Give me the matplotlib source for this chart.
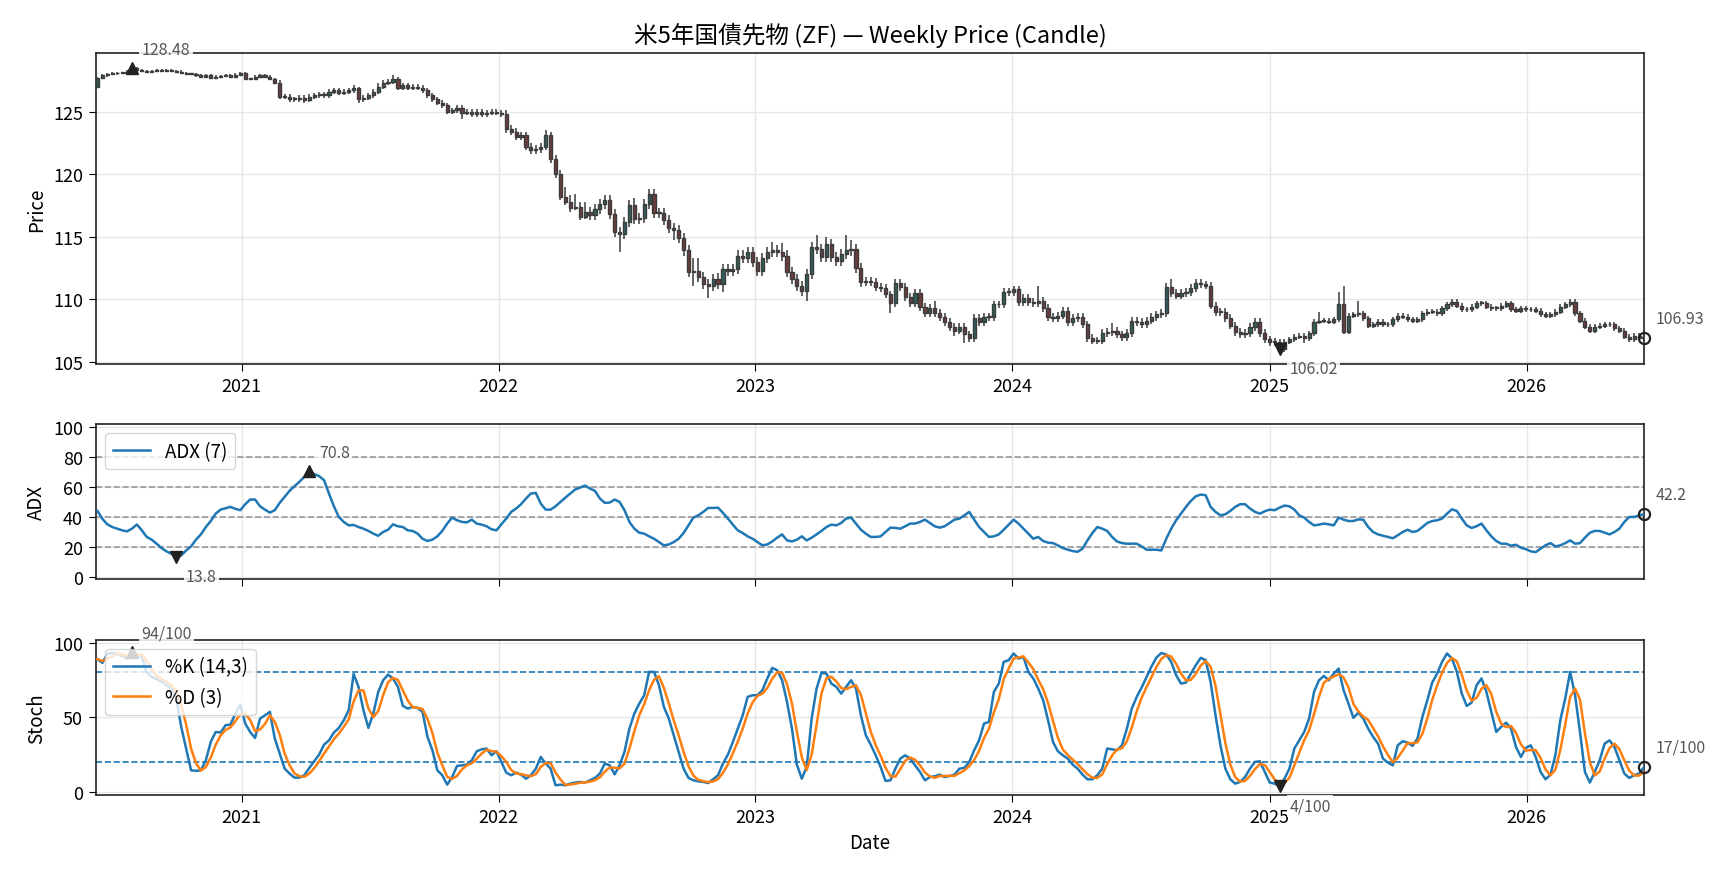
import numpy as np
import pandas as pd
import matplotlib
matplotlib.use("Agg")
import matplotlib.pyplot as plt
import matplotlib.dates as mdates

plt.rcParams['font.family'] = ['Noto Sans CJK JP', 'DejaVu Sans']

# weekly bars, first bar week of 2020-06-10
start = "2020-06-10"
first_open = 127.0

closes = [
    127.7, 127.9, 128.0, 128.05, 128.1, 128.1, 128.2, 128.48, 128.3, 128.25,
    128.2, 128.25, 128.3, 128.25, 128.3, 128.25, 128.2, 128.1, 128.0, 128.0,
    127.9, 127.8, 127.9, 127.7, 127.8, 127.85, 127.9, 127.8, 127.95, 128.05,
    127.6, 127.6, 127.8, 127.9, 127.8, 127.6, 127.3, 126.2, 126.2, 126.0,
    126.0, 126.1, 125.9, 126.2, 126.3, 126.4, 126.3, 126.6, 126.7, 126.5,
    126.6, 126.7, 126.9, 126.0, 126.1, 126.3, 126.6, 127.0, 127.3, 127.4,
    127.6, 126.9, 127.1, 126.9, 127.0, 126.9, 126.7, 126.3, 126.0, 125.7,
    125.5, 125.0, 125.1, 125.3, 124.9, 125.0, 124.8, 125.0, 124.8, 124.9,
    125.0, 124.9, 124.8, 123.6, 123.4, 123.0, 123.1, 122.2, 121.9, 122.0,
    122.2, 123.1, 121.2, 120.0, 118.2, 117.8, 117.3, 117.4, 116.6, 117.0,
    116.7, 117.2, 117.6, 117.9, 116.8, 115.4, 115.2, 116.2, 117.5, 116.4,
    116.5, 117.6, 118.4, 116.9, 116.9, 116.3, 115.7, 115.5, 114.9, 113.9,
    112.2, 112.3, 111.8, 111.2, 111.1, 111.6, 111.2, 112.4, 112.3, 112.4,
    113.5, 113.3, 113.8, 113.0, 112.3, 113.3, 113.8, 113.9, 113.8, 113.5,
    112.2, 111.6, 111.1, 110.7, 112.0, 114.2, 114.0, 113.4, 114.4, 113.4,
    113.1, 113.6, 113.9, 114.0, 112.5, 111.4, 111.5, 111.4, 111.0, 110.9,
    110.4, 109.7, 111.3, 111.0, 110.2, 109.7, 110.5, 109.4, 108.9, 109.3,
    108.9, 108.6, 108.2, 107.8, 107.5, 107.8, 107.2, 106.9, 108.5, 108.2,
    108.6, 108.6, 109.6, 109.6, 110.6, 110.6, 110.8, 109.8, 110.1, 109.8,
    109.7, 109.9, 109.3, 108.6, 108.5, 108.7, 109.1, 108.2, 108.5, 108.6,
    108.0, 106.9, 106.7, 106.7, 107.3, 107.4, 107.5, 107.2, 107.0, 107.3,
    108.3, 108.2, 108.0, 108.3, 108.6, 108.8, 108.9, 111.0, 110.5, 110.3,
    110.5, 110.6, 110.9, 111.3, 111.2, 111.1, 109.5, 109.0, 109.0, 108.5,
    107.9, 107.4, 107.2, 107.3, 107.8, 108.2, 107.3, 106.8, 106.6, 106.6,
    106.02, 106.6, 106.8, 107.0, 107.1, 106.9, 107.3, 108.2, 108.3, 108.3,
    108.2, 108.4, 109.6, 107.4, 108.7, 108.8, 108.9, 108.5, 107.9, 108.0,
    108.2, 108.0, 108.0, 108.4, 108.7, 108.6, 108.4, 108.3, 108.4, 108.9,
    109.0, 109.0, 108.9, 109.3, 109.6, 109.8, 109.5, 109.2, 109.2, 109.4,
    109.7, 109.7, 109.4, 109.3, 109.3, 109.5, 109.7, 109.2, 109.1, 109.3,
    109.2, 109.2, 109.1, 108.8, 108.7, 108.8, 109.0, 109.4, 109.6, 109.8,
    108.9, 108.3, 107.8, 107.5, 107.8, 107.9, 108.0, 108.0, 107.7, 107.5,
    107.0, 106.8, 107.1, 106.9, 106.93,
]

# wick length above / below the body
wick_up = [
    0.1, 0.1, 0.1, 0.1, 0.1, 0.1, 0.1, 0.1, 0.1, 0.1, 0.1, 0.1, 0.1, 0.1, 0.1, 0.1, 0.1, 0.1, 0.1, 0.1,
    0.1, 0.1, 0.1, 0.1, 0.1, 0.1, 0.1, 0.1, 0.1, 0.1, 0.1, 0.1, 0.1, 0.1, 0.1, 0.1, 0.1, 0.2, 0.2, 0.2,
    0.2, 0.2, 0.2, 0.2, 0.2, 0.2, 0.2, 0.2, 0.2, 0.2, 0.2, 0.2, 0.2, 0.1, 0.2, 0.2, 0.2, 0.3, 0.2, 0.2,
    0.3, 0.2, 0.2, 0.2, 0.2, 0.2, 0.2, 0.2, 0.2, 0.2, 0.2, 0.2, 0.2, 0.2, 0.2, 0.2, 0.2, 0.2, 0.2, 0.2,
    0.2, 0.2, 0.2, 0.3, 0.3, 0.3, 0.3, 0.3, 0.3, 0.3, 0.3, 0.4, 0.3, 0.3, 0.3, 0.8, 0.5, 1.0, 0.4, 0.8,
    0.4, 0.4, 0.4, 0.4, 0.4, 0.4, 0.4, 0.4, 0.4, 0.6, 0.4, 0.4, 0.4, 0.4, 0.4, 0.4, 0.4, 0.4, 0.4, 0.4,
    0.4, 1.0, 1.0, 0.4, 0.4, 0.4, 0.5, 0.4, 0.4, 0.4, 0.4, 0.4, 0.4, 0.4, 0.4, 0.4, 0.4, 0.7, 0.4, 0.7,
    0.4, 0.4, 0.4, 0.4, 0.4, 0.4, 0.9, 0.4, 0.6, 0.4, 0.4, 0.4, 1.2, 0.7, 0.4, 0.4, 0.3, 0.3, 0.3, 0.3,
    0.3, 0.3, 0.3, 0.3, 0.3, 0.3, 0.3, 0.3, 0.3, 0.3, 0.6, 0.3, 0.3, 0.3, 0.3, 0.3, 0.3, 0.3, 0.3, 0.3,
    0.3, 0.3, 0.3, 0.3, 0.3, 0.3, 0.3, 0.3, 0.3, 0.3, 0.3, 1.2, 0.3, 0.3, 0.3, 0.3, 0.3, 0.3, 0.3, 0.3,
    0.3, 0.3, 0.3, 0.3, 0.3, 0.3, 0.6, 0.3, 0.3, 0.3, 0.3, 0.3, 0.3, 0.3, 0.3, 0.3, 0.3, 0.3, 0.6, 0.3,
    0.3, 0.3, 0.3, 0.3, 0.3, 0.3, 0.3, 0.3, 0.3, 0.3, 0.3, 0.3, 0.3, 0.3, 0.3, 0.3, 0.3, 0.3, 0.3, 0.3,
    0.2, 0.2, 0.2, 0.2, 0.2, 0.2, 0.2, 0.2, 0.7, 0.2, 0.2, 0.2, 1.0, 1.5, 0.2, 0.2, 1.0, 0.2, 0.2, 0.2,
    0.2, 0.2, 0.2, 0.2, 0.2, 0.2, 0.2, 0.2, 0.2, 0.2, 0.2, 0.2, 0.2, 0.2, 0.2, 0.2, 0.2, 0.2, 0.2, 0.2,
    0.2, 0.2, 0.2, 0.2, 0.2, 0.2, 0.2, 0.2, 0.2, 0.2, 0.2, 0.2, 0.2, 0.2, 0.2, 0.2, 0.2, 0.2, 0.2, 0.2,
    0.2, 0.2, 0.2, 0.2, 0.2, 0.2, 0.2, 0.2, 0.2, 0.2, 0.2, 0.2, 0.2, 0.2, 0.2,
]
wick_dn = [
    0.1, 0.1, 0.1, 0.1, 0.1, 0.1, 0.1, 0.1, 0.1, 0.1, 0.1, 0.1, 0.1, 0.1, 0.1, 0.1, 0.1, 0.1, 0.1, 0.1,
    0.1, 0.1, 0.1, 0.1, 0.1, 0.1, 0.1, 0.1, 0.1, 0.1, 0.1, 0.1, 0.1, 0.1, 0.1, 0.1, 0.1, 0.2, 0.2, 0.2,
    0.2, 0.2, 0.2, 0.1, 0.2, 0.2, 0.2, 0.2, 0.2, 0.2, 0.2, 0.2, 0.2, 0.3, 0.2, 0.2, 0.2, 0.2, 0.2, 0.2,
    0.2, 0.2, 0.2, 0.2, 0.2, 0.2, 0.2, 0.2, 0.2, 0.2, 0.2, 0.2, 0.2, 0.2, 0.5, 0.2, 0.2, 0.2, 0.2, 0.2,
    0.2, 0.2, 0.2, 0.3, 0.3, 0.3, 0.3, 0.3, 0.3, 0.3, 0.3, 0.3, 0.3, 0.3, 0.3, 0.3, 0.3, 0.2, 0.3, 0.2,
    0.4, 0.4, 0.4, 0.4, 0.4, 0.4, 1.4, 0.4, 0.4, 0.4, 0.4, 0.4, 0.4, 0.4, 0.4, 0.4, 0.4, 0.8, 0.4, 0.4,
    0.4, 1.1, 0.4, 0.4, 1.0, 0.4, 0.4, 0.6, 0.4, 0.4, 0.4, 0.4, 0.4, 0.4, 0.4, 0.4, 0.4, 0.4, 0.4, 0.4,
    0.4, 0.4, 0.4, 0.4, 0.8, 0.4, 0.4, 0.4, 0.4, 0.4, 0.4, 0.4, 0.4, 0.4, 0.4, 0.4, 0.3, 0.3, 0.3, 0.3,
    0.3, 0.8, 0.3, 0.3, 0.3, 0.3, 0.3, 0.3, 0.3, 0.3, 0.3, 0.3, 0.3, 0.3, 0.4, 0.3, 0.7, 0.3, 0.3, 0.3,
    0.3, 0.3, 0.3, 0.3, 0.3, 0.3, 0.3, 0.3, 0.3, 0.3, 0.3, 0.3, 0.3, 0.3, 0.3, 0.3, 0.3, 0.3, 0.3, 0.3,
    0.3, 0.3, 0.3, 0.3, 0.3, 0.3, 0.3, 0.3, 0.3, 0.3, 0.3, 0.3, 0.3, 0.3, 0.3, 0.3, 0.3, 0.3, 0.3, 0.3,
    0.3, 0.3, 0.3, 0.3, 0.3, 0.3, 0.3, 0.3, 0.3, 0.3, 0.3, 0.3, 0.3, 0.3, 0.3, 0.3, 0.3, 0.3, 0.3, 0.3,
    0.2, 0.2, 0.2, 0.2, 0.2, 0.4, 0.2, 0.2, 0.2, 0.2, 0.2, 0.2, 0.2, 0.2, 0.2, 0.2, 0.2, 0.2, 0.2, 0.2,
    0.2, 0.2, 0.2, 0.2, 0.2, 0.2, 0.2, 0.2, 0.2, 0.2, 0.2, 0.2, 0.2, 0.2, 0.2, 0.2, 0.2, 0.2, 0.2, 0.2,
    0.2, 0.2, 0.2, 0.2, 0.2, 0.2, 0.2, 0.2, 0.2, 0.2, 0.2, 0.2, 0.2, 0.2, 0.2, 0.2, 0.2, 0.2, 0.2, 0.2,
    0.2, 0.2, 0.2, 0.2, 0.2, 0.2, 0.2, 0.2, 0.2, 0.2, 0.2, 0.2, 0.2, 0.2, 0.2,
]

adx = [
    44.3, 39.0, 35.4, 33.6, 32.5, 31.4, 30.7, 32.5, 35.3, 31.4,
    27.0, 25.2, 22.5, 19.6, 17.4, 15.8, 13.8, 14.7, 18.0, 20.7,
    25.2, 28.7, 33.6, 37.6, 42.5, 45.2, 46.1, 47.0, 45.7, 44.8,
    48.8, 51.9, 51.9, 47.4, 45.2, 43.2, 44.8, 49.7, 53.7, 57.7,
    60.8, 63.7, 67.0, 70.8, 68.8, 67.5, 64.8, 55.9, 47.4, 40.3,
    37.0, 34.7, 35.0, 33.6, 32.5, 31.0, 29.2, 27.8, 30.3, 31.8,
    35.4, 34.1, 33.6, 31.4, 31.0, 29.2, 25.8, 24.3, 25.2, 27.4,
    31.0, 35.9, 39.9, 38.1, 37.0, 36.7, 38.5, 35.9, 35.2, 34.1,
    32.1, 31.4, 35.4, 39.2, 43.7, 45.9, 48.8, 52.6, 55.9, 56.3,
    49.2, 45.2, 45.2, 47.4, 50.3, 53.2, 55.9, 58.6, 59.9, 61.2,
    59.2, 57.7, 52.6, 49.7, 49.9, 51.9, 50.3, 44.8, 37.0, 32.5,
    29.8, 29.2, 27.4, 25.8, 23.6, 21.4, 22.0, 23.6, 25.8, 29.6,
    34.7, 39.9, 41.4, 43.7, 46.3, 46.3, 46.5, 43.0, 39.2, 35.2,
    31.4, 29.6, 27.4, 25.8, 23.6, 21.4, 22.0, 24.0, 26.5, 28.7,
    24.7, 24.0, 25.2, 27.4, 24.7, 26.5, 28.7, 31.0, 33.6, 35.2,
    34.7, 36.3, 39.2, 39.9, 35.9, 31.8, 29.2, 27.0, 27.0, 27.4,
    30.3, 33.2, 33.0, 32.5, 34.1, 35.9, 35.9, 37.0, 38.5, 36.3,
    34.1, 33.2, 34.1, 36.3, 38.5, 39.2, 41.4, 43.7, 38.5, 33.6,
    30.3, 27.0, 27.4, 28.7, 31.8, 35.2, 38.5, 35.9, 32.5, 29.2,
    25.8, 27.0, 24.3, 23.2, 22.9, 21.4, 19.6, 18.5, 17.6, 17.1,
    19.2, 24.7, 29.6, 33.6, 32.5, 31.0, 27.0, 24.0, 22.9, 22.5,
    22.5, 22.5, 20.7, 18.5, 18.5, 18.5, 18.0, 25.8, 32.5, 38.1,
    42.5, 47.0, 51.0, 54.1, 55.2, 54.8, 47.0, 43.7, 41.4, 42.1,
    44.3, 47.0, 48.8, 48.8, 45.9, 43.7, 42.5, 44.1, 45.2, 44.8,
    46.5, 47.9, 47.4, 45.2, 41.4, 39.9, 37.0, 34.7, 35.2, 35.9,
    35.4, 34.7, 39.9, 38.5, 37.6, 37.6, 38.7, 38.5, 33.6, 30.3,
    28.7, 27.8, 27.0, 26.1, 28.1, 30.3, 31.8, 30.3, 31.0, 33.6,
    36.3, 37.6, 38.1, 39.2, 42.5, 45.4, 44.3, 39.2, 34.7, 33.0,
    34.1, 35.9, 31.4, 27.4, 24.3, 22.5, 22.5, 21.2, 21.8, 19.8,
    18.9, 17.4, 16.9, 19.2, 21.4, 22.9, 20.7, 21.4, 22.9, 24.7,
    22.5, 22.9, 26.5, 29.8, 31.0, 31.0, 29.8, 28.7, 30.3, 32.5,
    37.0, 40.3, 40.3, 41.4, 42.2,
]

stoch_k = [
    88.9, 86.4, 92.5, 93.0, 92.5, 91.0, 89.3, 94.0, 92.0, 90.4,
    80.0, 77.0, 75.5, 74.0, 71.5, 69.0, 62.6, 43.7, 29.2, 14.7,
    14.3, 14.7, 21.4, 33.6, 40.3, 39.9, 44.8, 45.2, 52.6, 58.6,
    45.9, 40.3, 36.3, 49.2, 51.4, 53.7, 35.9, 25.8, 15.8, 12.5,
    9.8, 9.8, 11.4, 16.3, 20.7, 25.2, 31.8, 34.7, 39.9, 43.0,
    48.1, 54.8, 79.0, 70.4, 54.8, 43.0, 52.6, 67.0, 74.8, 78.6,
    76.0, 70.4, 57.7, 55.9, 57.0, 56.3, 53.7, 37.0, 28.1, 14.7,
    11.4, 5.1, 10.2, 17.6, 18.0, 18.5, 21.4, 27.4, 28.7, 29.2,
    24.7, 27.4, 20.3, 13.1, 11.4, 13.1, 11.8, 9.1, 11.4, 15.8,
    23.6, 19.2, 15.8, 4.7, 5.1, 4.7, 5.8, 6.5, 6.9, 6.5,
    8.0, 9.6, 12.5, 19.2, 18.0, 12.0, 18.0, 27.0, 42.5, 52.6,
    59.2, 64.8, 80.4, 80.4, 71.5, 57.0, 49.2, 38.1, 27.0, 15.8,
    9.6, 8.0, 7.3, 6.9, 6.2, 8.7, 11.4, 19.2, 25.2, 33.6,
    42.5, 51.4, 63.7, 64.8, 64.8, 68.2, 76.0, 83.1, 81.5, 74.8,
    60.4, 42.5, 18.5, 9.1, 16.9, 49.2, 69.3, 79.7, 79.3, 72.6,
    70.4, 65.9, 70.4, 74.8, 69.3, 51.4, 38.1, 31.8, 24.7, 16.9,
    7.6, 8.0, 15.8, 22.5, 24.7, 22.5, 18.0, 13.6, 8.0, 10.2,
    10.7, 11.8, 10.2, 10.9, 11.8, 15.8, 16.3, 20.3, 28.1, 34.7,
    45.9, 47.0, 67.0, 72.6, 87.1, 88.2, 92.7, 89.3, 90.4, 80.4,
    76.0, 69.3, 61.5, 48.1, 33.6, 27.4, 24.7, 22.5, 18.5, 15.8,
    11.8, 8.7, 8.7, 11.4, 15.8, 29.2, 28.7, 28.1, 31.4, 42.5,
    55.9, 63.7, 70.0, 77.0, 84.0, 90.0, 93.0, 92.0, 87.1, 78.2,
    72.6, 73.3, 79.3, 84.9, 89.8, 88.2, 73.7, 51.4, 31.4, 15.8,
    8.7, 5.8, 6.9, 10.2, 15.8, 20.3, 20.7, 13.6, 6.5, 5.8,
    4.0, 9.1, 15.8, 29.2, 34.7, 40.3, 49.2, 67.0, 74.8, 77.7,
    74.8, 79.3, 82.6, 68.2, 59.2, 49.7, 53.2, 49.2, 42.5, 37.0,
    32.5, 22.5, 19.8, 18.0, 31.4, 34.1, 33.2, 31.0, 35.9, 50.3,
    61.5, 73.3, 79.3, 87.1, 92.7, 89.3, 80.4, 65.9, 57.7, 59.9,
    71.5, 76.0, 67.0, 53.7, 40.3, 43.7, 46.5, 42.5, 30.3, 23.6,
    29.6, 31.4, 23.6, 13.6, 8.7, 11.8, 24.7, 48.1, 62.6, 80.4,
    64.8, 40.3, 13.6, 6.5, 13.6, 21.4, 32.5, 34.7, 30.3, 21.4,
    12.5, 9.6, 11.4, 12.5, 16.9,
]

dates = pd.date_range(start, periods=len(closes), freq="W-WED")
c = np.array(closes)
o = np.r_[first_open, c[:-1]]
hi = np.maximum(o, c) + np.array(wick_up)
lo = np.minimum(o, c) - np.array(wick_dn)
k = pd.Series(stoch_k)
d = k.rolling(3, min_periods=1).mean()

fig = plt.figure(figsize=(17.28, 8.78), dpi=100)
gs = fig.add_gridspec(3, 1, height_ratios=[2, 1, 1], left=0.0556, right=0.9514,
                      top=0.9385, bottom=0.0934, hspace=0.29)
ax1 = fig.add_subplot(gs[0])
ax2 = fig.add_subplot(gs[1])
ax3 = fig.add_subplot(gs[2])

DARK = '#222222'
NOTE = '#555555'


def mark(ax, x, y, txt, kind):
    box = dict(boxstyle='square,pad=0.15', fc='white', ec='none', alpha=0.85)
    if kind == 'max':
        ax.plot(x, y, '^', color=DARK, ms=9, zorder=4)
        ax.annotate(txt, (x, y), xytext=(7, 7), textcoords='offset points', ha='left',
                    va='bottom', fontsize=11.5, color=NOTE, bbox=box, zorder=6)
    elif kind == 'min':
        ax.plot(x, y, 'v', color=DARK, ms=9, zorder=4)
        ax.annotate(txt, (x, y), xytext=(7, -8), textcoords='offset points', ha='left',
                    va='top', fontsize=11.5, color=NOTE, bbox=box, zorder=6)
    else:
        ax.plot(x, y, 'o', mfc='none', mec=DARK, mew=1.6, ms=8, zorder=4, clip_on=False)
        ax.annotate(txt, (x, y), xytext=(8, 8), textcoords='offset points', ha='left',
                    va='bottom', fontsize=11.5, color=NOTE, zorder=6)


# price candles (thin bodies: the dark outline mostly hides the fill)
up = c >= o
ax1.vlines(dates, lo, hi, color='#3a3a3a', lw=1.1, zorder=2)
ax1.bar(dates, np.maximum(np.abs(c - o), 0.05), bottom=np.minimum(o, c), width=4.5,
        color=np.where(up, '#2f5f5a', '#6b3d3d'), edgecolor='#3c3c3c', linewidth=1.0, zorder=3)
imax, imin = int(np.argmax(c)), int(np.argmin(c))
mark(ax1, dates[imax], c[imax], f"{c[imax]:.2f}", 'max')
mark(ax1, dates[imin], c[imin], f"{c[imin]:.2f}", 'min')
mark(ax1, dates[-1], c[-1], f"{c[-1]:.2f}", 'last')
ax1.set_ylim(104.84, 129.68)
ax1.set_yticks([105, 110, 115, 120, 125])
ax1.set_ylabel('Price', fontsize=13.5)
ax1.set_title('米5年国債先物 (ZF) — Weekly Price (Candle)', fontsize=17, pad=8)

# ADX
a = np.array(adx)
ax2.plot(dates, a, color='#1f77b4', lw=1.8, label='ADX (7)', zorder=3)
for v in [20, 40, 60, 80]:
    ax2.axhline(v, color='#999999', ls='--', lw=1.2, zorder=1)
i1, i0 = int(np.argmax(a)), int(np.argmin(a))
mark(ax2, dates[i1], a[i1], f"{a[i1]:.1f}", 'max')
mark(ax2, dates[i0], a[i0], f"{a[i0]:.1f}", 'min')
mark(ax2, dates[-1], a[-1], f"{a[-1]:.1f}", 'last')
ax2.set_ylim(-1.3, 102.2)
ax2.set_yticks([0, 20, 40, 60, 80, 100])
ax2.set_ylabel('ADX', fontsize=13.5)
ax2.legend(loc='upper left', fontsize=13.5, framealpha=0.8)
ax2.tick_params(labelbottom=False)

# Stochastic
kv = k.values
ax3.plot(dates, kv, color='#1f77b4', lw=1.8, label='%K (14,3)', zorder=3)
ax3.plot(dates, d.values, color='#ff7f0e', lw=1.8, label='%D (3)', zorder=3)
for v in [20, 80]:
    ax3.axhline(v, color='#1f77b4', ls='--', lw=1.2, zorder=1)
j1, j0 = int(np.argmax(kv)), int(np.argmin(kv))
mark(ax3, dates[j1], kv[j1], f"{kv[j1]:.0f}/100", 'max')
mark(ax3, dates[j0], kv[j0], f"{kv[j0]:.0f}/100", 'min')
mark(ax3, dates[-1], kv[-1], f"{kv[-1]:.0f}/100", 'last')
ax3.set_ylim(-1.8, 102)
ax3.set_yticks([0, 50, 100])
ax3.set_ylabel('Stoch', fontsize=13.5)
ax3.set_xlabel('Date', fontsize=13.5)
ax3.legend(loc='upper left', fontsize=13.5, framealpha=0.8)

for ax in (ax1, ax2, ax3):
    ax.set_xlim(dates[0] - pd.Timedelta(days=2), dates[-1])
    ax.xaxis.set_major_locator(mdates.YearLocator())
    ax.xaxis.set_major_formatter(mdates.DateFormatter('%Y'))
    ax.grid(True, color='#e6e6e6', lw=1.0, zorder=0)
    ax.set_axisbelow(True)
    ax.tick_params(labelsize=13, length=5, pad=4.5)
    for s in ax.spines.values():
        s.set_color(DARK)
        s.set_linewidth(1.2)

plt.savefig('out.png', dpi=100)
